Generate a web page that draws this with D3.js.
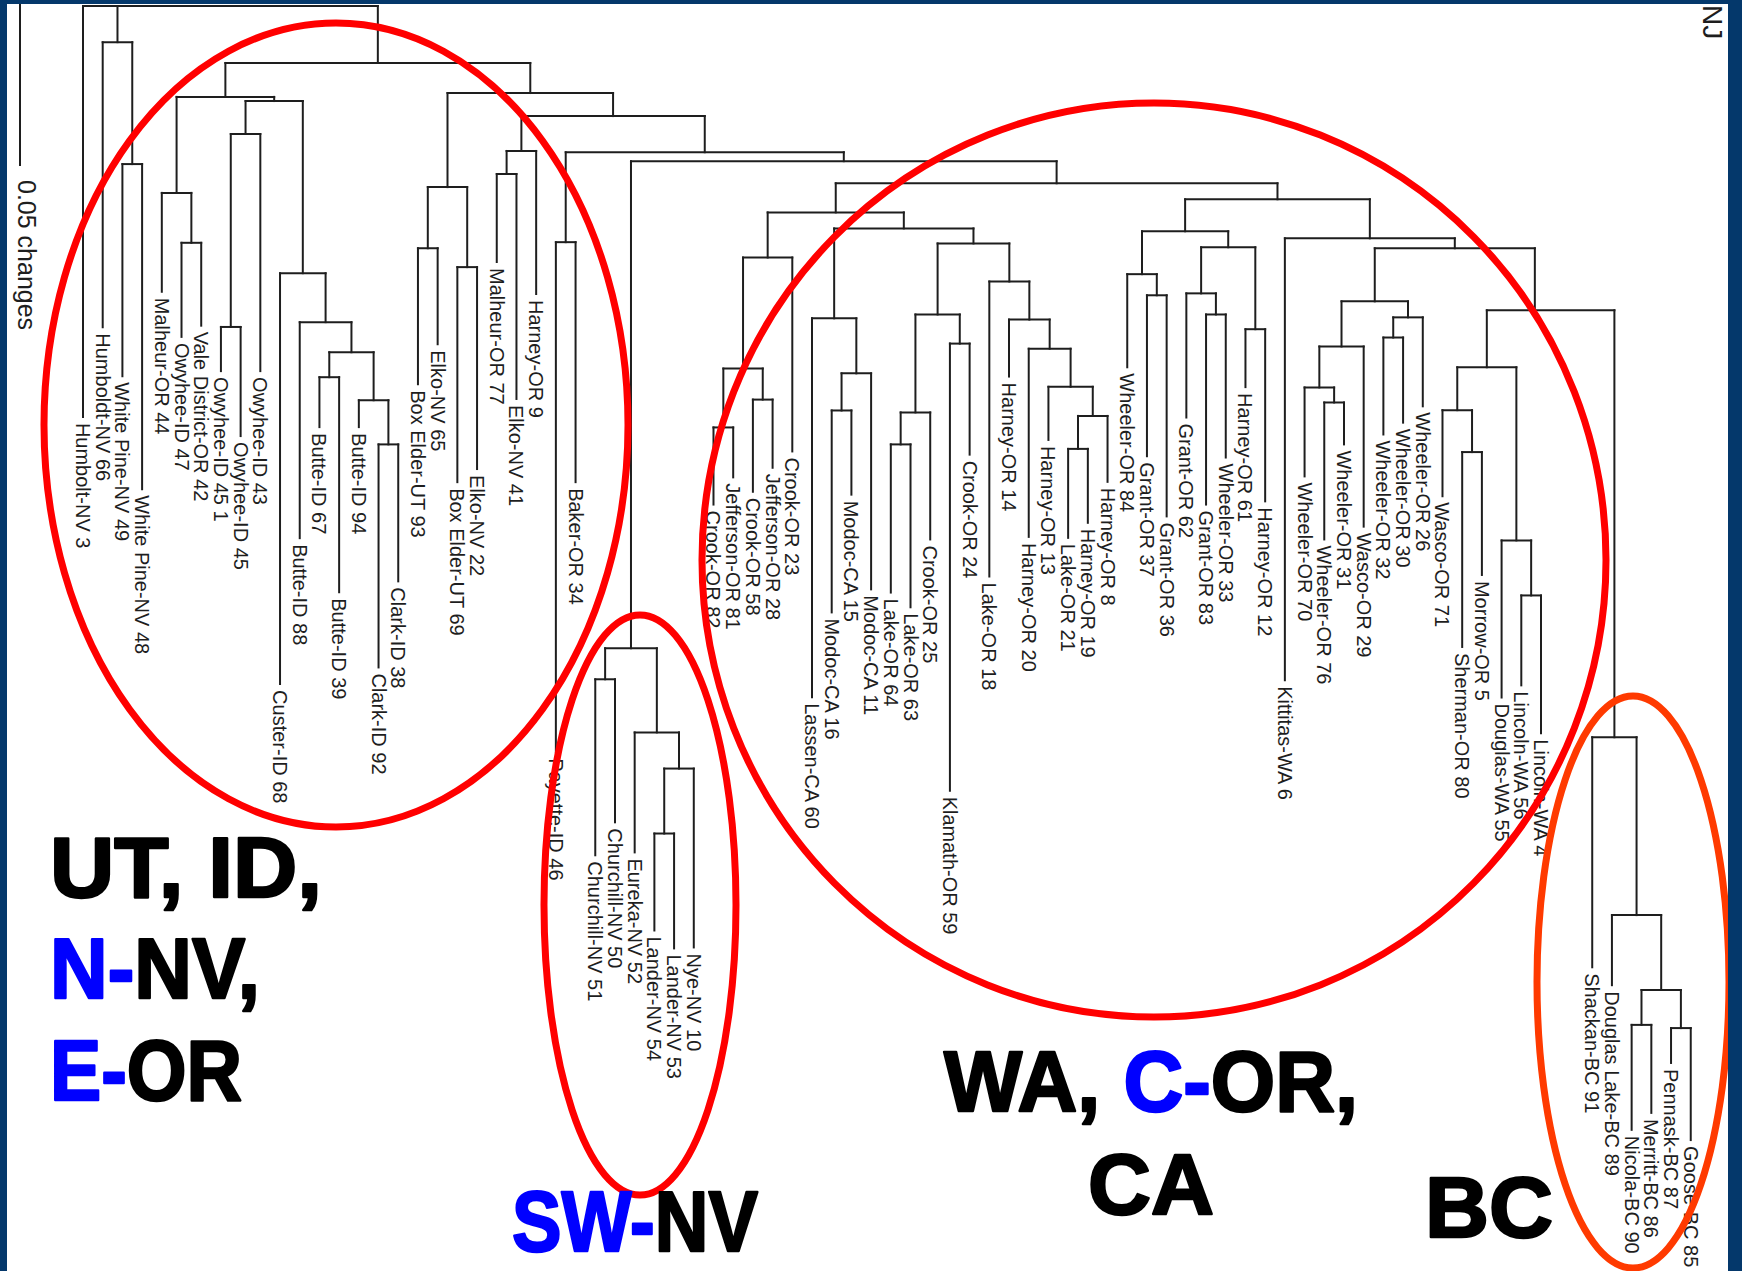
<!DOCTYPE html>
<html>
<head>
<meta charset="utf-8">
<script src="https://cdn.jsdelivr.net/npm/d3@7"></script>
<style>
  html, body { margin: 0; padding: 0; background: #fff; }
  svg { display: block; }
  .branch { stroke: #1e1e1e; stroke-width: 2; fill: none; stroke-linecap: square; }
  .leaf { font-family: "Liberation Sans", Arial, Helvetica, sans-serif; font-size: 20px; fill: #1e1e1e; }
  .region { font-family: "Liberation Sans", Arial, Helvetica, sans-serif; font-weight: bold; font-size: 86px; }
</style>
</head>
<body>
<svg id="chart"></svg>
<script>
const treeNewick = `
(Humbolt-NV 3:0.1284,
 (Humboldt-NV 66:0.0891,(White Pine-NV 49:0.0663,White Pine-NV 48:0.1016):0.0381):0.0113,
 (
  ((Malheur-OR 44:0.0309,(Owyhee-ID 47:0.0294,Vale District-OR 42:0.0259):0.0156):0.03,
   (((Owyhee-ID 45 1:0.0138,Owyhee-ID 45:0.0341):0.0603,Owyhee-ID 43:0.0741):0.0103,
    (Custer-ID 68:0.1284,(Butte-ID 88:0.0675,((Butte-ID 67:0.0156,Butte-ID 39:0.0672):0.0078,
      (Butte-ID 94:0.0084,(Clark-ID 92:0.0697,Clark-ID 38:0.0428):0.0138):0.015):0.0094):0.0153):0.0538):0.0013):0.0106,
  (((Box Elder-UT 93:0.0425,Elko-NV 65:0.03):0.0191,(Box Elder-UT 69:0.0672,Elko-NV 22:0.0631):0.025):0.0294,
   (((Malheur-OR 77:0.0275,Elko-NV 41:0.0703):0.0072,Harney-OR 9:0.0447):0.0109,
    ((Payette-ID 46:0.1594,Baker-OR 34:0.075):0.0281,
     (((Churchill-NV 51:0.055,Churchill-NV 50:0.0447):0.0097,
       (Eureka-NV 52:0.0375,((Lander-NV 54:0.0303,Lander-NV 53:0.0359):0.0203,Nye-NV 10:0.0559):0.0113):0.0263):0.1522,
      (
       ((((Crook-OR 82:0.0241,Jefferson-OR 81:0.0156):0.0184,(Crook-OR 58:0.0288,Jefferson-OR 28:0.0213):0.0097):0.0347,Crook-OR 23:0.0606):0.0141,
        ((Lassen-CA 60:0.1184,((Modoc-CA 16:0.0631,Modoc-CA 15:0.0263):0.0116,Modoc-CA 11:0.0675):0.0172):0.0281,
         ((((Lake-OR 64:0.0463,Lake-OR 63:0.0509):0.01,Crook-OR 25:0.0397):0.0306,(Klamath-OR 59:0.1397,Crook-OR 24:0.0347):0.0091):0.0222,
          (Lake-OR 18:0.0922,(Harney-OR 14:0.0178,(Harney-OR 20:0.0588,(Harney-OR 13:0.0166,
            ((Lake-OR 21:0.0278,Harney-OR 19:0.0231):0.0103,Harney-OR 8:0.0206):0.0091):0.0119):0.0091):0.0119):0.0119):0.0047):0.005):0.0091,
       (((Wheeler-OR 84:0.0291,(Grant-OR 37:0.0503,Grant-OR 36:0.0691):0.0066):0.0134,
         ((Grant-OR 62:0.0388,(Grant-OR 83:0.0594,Wheeler-OR 33:0.0447):0.0066):0.0144,(Harney-OR 61:0.0181,Harney-OR 12:0.0538):0.0256):0.005):0.01,
        (Kittitas-WA 6:0.1381,
         ((((Wheeler-OR 70:0.0278,(Wheeler-OR 76:0.0428,Wheeler-OR 31:0.0131):0.0047):0.0128,Wasco-OR 29:0.0563):0.0141,
           ((Wheeler-OR 32:0.0303,Wheeler-OR 30:0.0266):0.0063,Wheeler-OR 26:0.0278):0.005):0.0166,
          (((Wasco-OR 71:0.0269,(Sherman-OR 80:0.0609,Morrow-OR 5:0.0384):0.0131):0.0134,
            (Douglas-WA 55:0.0491,(Lincoln-WA 56:0.0281,Lincoln-WA 4:0.0431):0.0172):0.0541):0.0178,
           (Shackan-BC 91:0.0719,(Douglas Lake-BC 89:0.0219,((Nicola-BC 90:0.0328,Merritt-BC 86:0.0275):0.0109,
             (Pennask-BC 87:0.0109,Goose-BC 85:0.035):0.0119):0.0234):0.0556):0.1334):0.0194):0.0031):0.0122):0.005):0.0069):0.0028):0.0113):0.0072):0.0094
 ):0.0178);`;

const scaleBarValue = 0.05;
const scaleBarLabel = "0.05 changes";
const methodLabel = "NJ";

// big region labels, each line as [text, colour key]
const regionLines = [
  [["UT, ID,", "k"]],
  [["N-", "b"], ["NV,", "k"]],
  [["E-", "b"], ["OR", "k"]],
  [["SW-", "b"], ["NV", "k"]],
  [["WA, ", "k"], ["C-", "b"], ["OR,", "k"]],
  [["CA", "k"]],
  [["BC", "k"]]
];

// clade ellipses: names of first and last leaf circled
const cladeRings = [
  ["Humbolt-NV 3", "Baker-OR 34"],
  ["Churchill-NV 51", "Nye-NV 10"],
  ["Crook-OR 82", "Lincoln-WA 4"],
  ["Shackan-BC 91", "Goose-BC 85"]
];

/*------------------------------ layout ------------------------------*/
const W = 1742, H = 1271;
const navy = "#04386b";
const palette = { k: "#000", b: "#0000ff" };
const gapBefore = "Shackan-BC 91", gapSlots = 1.6;

function parseNewick(str) {
  const s = str.replace(/\s*\n\s*/g, "").replace(/\s*([,():;])\s*/g, "$1");
  let i = 0;
  function node() {
    const n = {};
    if (s[i] === "(") {
      n.children = [];
      i++;
      n.children.push(node());
      while (s[i] === ",") { i++; n.children.push(node()); }
      i++;
    }
    let name = "";
    while (i < s.length && !",():;".includes(s[i])) name += s[i++];
    n.name = name.trim();
    n.length = 0;
    if (s[i] === ":") {
      i++;
      let num = "";
      while (i < s.length && !",();".includes(s[i])) num += s[i++];
      n.length = +num;
    }
    return n;
  }
  return node();
}

const root = d3.hierarchy(parseNewick(treeNewick));
const leaves = root.leaves();
const gapIndex = leaves.findIndex(d => d.data.name === gapBefore);

// depth along branch lengths
root.eachBefore(d => { d.dist = d.parent ? d.parent.dist + d.data.length : 0; });
// slot positions: leaves evenly spaced, internal nodes at the middle of first/last child
leaves.forEach((d, i) => { d.slot = i; d.minLeaf = i; });
root.eachAfter(d => {
  if (d.children) {
    d.slot = (d.children[0].slot + d.children[d.children.length - 1].slot) / 2;
    d.minLeaf = d3.min(d.children, c => c.minLeaf);
  }
});

const x = d3.scaleLinear().domain([0, 74]).range([83, 1541]);
const y = d3.scaleLinear().domain([0, scaleBarValue]).range([6, 166]);
const px = d => x(d.slot + (d.minLeaf >= gapIndex ? gapSlots : 0));

const svg = d3.select("#chart").attr("width", W).attr("height", H);
svg.append("rect").attr("width", W).attr("height", H).attr("fill", "#fff");

const g = svg.append("g");

// vertical branches
g.selectAll("line.v")
  .data(root.descendants().filter(d => d.parent))
  .join("line")
  .attr("class", "branch")
  .attr("x1", px).attr("x2", px)
  .attr("y1", d => y(d.parent.dist))
  .attr("y2", d => y(d.dist));

// horizontal connectors
g.selectAll("line.h")
  .data(root.descendants().filter(d => d.children))
  .join("line")
  .attr("class", "branch")
  .attr("x1", d => px(d.children[0]))
  .attr("x2", d => px(d.children[d.children.length - 1]))
  .attr("y1", d => y(d.dist))
  .attr("y2", d => y(d.dist));

// leaf labels
g.selectAll("text.leaf")
  .data(leaves)
  .join("text")
  .attr("class", "leaf")
  .attr("transform", d => `translate(${px(d)},${y(d.dist) + 6}) rotate(90)`)
  .attr("dy", "0.35em")
  .text(d => d.data.name);

// scale bar
svg.append("line").attr("class", "branch")
  .attr("x1", 20).attr("x2", 20)
  .attr("y1", y(0) - 1).attr("y2", y(scaleBarValue) - 1);
svg.append("text")
  .attr("class", "leaf")
  .style("font-size", "25px")
  .attr("transform", `translate(18,${y(scaleBarValue) + 14}) rotate(90)`)
  .text(scaleBarLabel);

svg.append("text")
  .attr("class", "leaf")
  .style("font-size", "28px")
  .attr("transform", "translate(1703,5) rotate(90)")
  .text(methodLabel);

// clade ellipses
const ringGeom = [
  { cx: 336, cy: 425, rx: 292, ry: 402, c: "#ff0000" },
  { cx: 640, cy: 905, rx: 96, ry: 290, c: "#ff0000" },
  { cx: 1154, cy: 560, rx: 452, ry: 457, c: "#ff0000" },
  { cx: 1633, cy: 982, rx: 96, ry: 286, c: "#ff3a00" }
];
svg.selectAll("ellipse")
  .data(cladeRings)
  .join("ellipse")
  .attr("cx", (d, i) => ringGeom[i].cx)
  .attr("cy", (d, i) => ringGeom[i].cy)
  .attr("rx", (d, i) => ringGeom[i].rx)
  .attr("ry", (d, i) => ringGeom[i].ry)
  .attr("fill", "none")
  .attr("stroke", (d, i) => ringGeom[i].c)
  .attr("stroke-width", 7);

// region labels: [x, baseline, visible width]
const regionGeom = [
  [50, 897, 272], [50, 998, 210], [50, 1100, 192],
  [512, 1251, 246], [944, 1111, 414], [1088, 1214, 126], [1425, 1237, 128]
];
regionLines.forEach((line, i) => {
  const [tx, ty, tw] = regionGeom[i];
  const t = svg.append("text").attr("class", "region");
  line.forEach(([s, c]) => t.append("tspan")
    .attr("fill", palette[c])
    .attr("stroke", palette[c])
    .attr("stroke-width", 2.5)
    .attr("stroke-linejoin", "round")
    .text(s));
  const w0 = t.node().getComputedTextLength();
  t.attr("transform", `translate(${tx},${ty}) scale(${tw / w0},1)`);
});

// frame
svg.append("rect").attr("x", 0).attr("y", 0).attr("width", 7).attr("height", H).attr("fill", navy);
svg.append("rect").attr("x", 0).attr("y", 0).attr("width", W).attr("height", 4).attr("fill", navy);
svg.append("rect").attr("x", 1728).attr("y", 0).attr("width", W - 1728).attr("height", H).attr("fill", navy);
</script>
</body>
</html>
